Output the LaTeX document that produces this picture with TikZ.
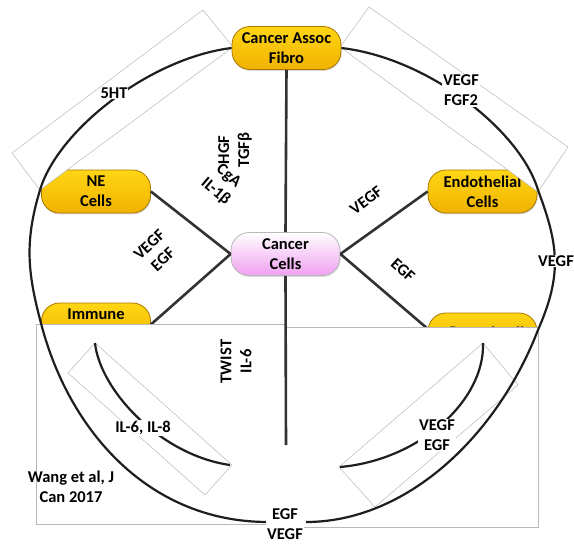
\documentclass[tikz,border=0pt]{standalone}
\usepackage{fontspec}
\setmainfont{Carlito}
\usetikzlibrary{shadows}
\newcommand\cellfont{\bfseries\fontsize{16.5}{20}\selectfont}
\definecolor{goldtop}{RGB}{255,214,20}
\definecolor{goldbot}{RGB}{240,178,0}
\definecolor{goldedge}{RGB}{170,120,0}
\definecolor{pinkcell}{RGB}{240,160,240}
\definecolor{cellgray}{RGB}{185,185,185}
\definecolor{linkgray}{RGB}{50,50,50}
\definecolor{ringblack}{RGB}{30,30,30}
\definecolor{framegray}{RGB}{185,185,185}
\tikzset{
  cell/.style={rectangle, rounded corners=18pt, minimum width=109pt,
    minimum height=43pt, inner sep=0pt, top color=goldtop,
    bottom color=goldbot, draw=goldedge, line width=0.8pt,
    align=center, font=\cellfont,
    drop shadow={shadow xshift=0.6pt, shadow yshift=-1.4pt, opacity=0.3}},
  tumour/.style={cell, top color=white, bottom color=pinkcell, draw=cellgray},
  link/.style={draw=linkgray, line width=2.6pt},
  ring/.style={draw=ringblack, line width=2.2pt},
  frame/.style={draw=framegray, line width=0.5pt, fill=white},
  tag/.style={font=\cellfont, align=center, inner sep=1pt},
  tagbg/.style={tag, fill=white},
}
\begin{document}
\begin{tikzpicture}[x=1pt,y=-1pt]
\useasboundingbox (0,0) rectangle (574,544);

% surrounding cell types and the tumour
\node[cell] (ne) at (96,191.5) {NE\\Cells};
\node[cell] (endo) at (482.5,191.5) {Endothelial\\Cells};
\node[cell] (immune) at (96,324.5) {Immune\\\phantom{Cells}};
\node[cell] (inflamed) at (482.5,334.5) {\raisebox{4pt}{Inflamed Cells}};
\node[tumour] (cancer) at (285.5,254) {Cancer\\Cells};

% spokes from the tumour
\draw[link] (cancer.west) -- (ne.east);
\draw[link] (cancer.west) -- (immune.east);
\draw[link] (cancer.east) -- (endo.west);
\draw[link] (cancer.east) -- (inflamed.174);

% frames of the upper arcs
\draw[frame] (203,10) -- (233,47) -- (40,190) -- (12,153) -- cycle;
\draw[frame] (369,7) -- (340,47) -- (538,192) -- (568,147) -- cycle;

% frames of the lower arcs
\fill[white] (36,324) rectangle (287,524);
\fill[white] (287,328) rectangle (538,527);
\draw[framegray, line width=0.5pt] (287,324) -- (36,324) -- (36,524) -- (287,524);
\draw[framegray, line width=0.5pt] (287,327) -- (538,327) -- (538,527) -- (287,527);
\draw[frame] (95,343) -- (68,373) -- (205,495) -- (232,465) -- cycle;
\draw[frame] (483,343) -- (518,385) -- (375,507) -- (339,467) -- cycle;

% fibroblasts at the top
\node[cell] (caf) at (286.5,48) {Cancer Assoc\\Fibro};

% vertical spokes
\coordinate (stem) at (286,445);
\draw[link] (caf.south) -- (cancer.north);
\draw[link] (cancer.south) -- (stem);

% outer ring
\coordinate (jnw) at (40,190);
\coordinate (jne) at (538,190);
\coordinate (jsw) at (42,327);
\coordinate (jse) at (538,330);
\coordinate (js1) at (268,522);
\coordinate (js2) at (306,522);
\draw[ring] (caf.west) .. controls (150,58) and (58,130) .. (jnw);
\draw[ring] (caf.east) .. controls (428,58) and (520,130) .. (jne);
\draw[ring] (jnw) .. controls (24,243) and (27.7,274) .. (jsw);
\draw[ring] (jsw) .. controls (70.6,432.6) and (150,522) .. (js1);
\draw[ring] (jne) .. controls (559,246) and (562,275) .. (jse);
\draw[ring] (jse) .. controls (496.6,437) and (406,522) .. (js2);

% inner arcs
\coordinate (ila) at (95,343);
\coordinate (ilb) at (230,465);
\coordinate (vea) at (483,343);
\coordinate (veb) at (340,467);
\draw[ring] (ila) .. controls (100,390) and (160,455) .. (ilb);
\draw[ring] (vea) .. controls (485,400) and (420,460) .. (veb);

% signal labels on the arcs
\node[tagbg] (t5ht) at (114,93) {5HT};
\node[tagbg] (tvf) at (461,90.5) {VEGF\\FGF2};
\node[tagbg] (tvr) at (556,261) {VEGF};
\node[tagbg] (tev) at (285,524) {EGF\\VEGF};
\node[tagbg] (til) at (143,428) {IL-6, IL-8};
\node[tagbg] (tve) at (437,435.5) {VEGF\\EGF};

% signal labels on the spokes
\node[tag, rotate=90] (thgf) at (235,150) {HGF\\TGFβ};
\node[tag, rotate=-40] (tcga) at (222,184) {CgA\\IL-1β};
\node[tag, rotate=43] (tvel) at (156,252) {VEGF\\EGF};
\node[tag, rotate=37] (tver) at (366,200) {VEGF};
\node[tag, rotate=-42] (tegr) at (403,270) {EGF};
\node[tag, rotate=90] (ttw) at (236,361.5) {TWIST\\IL-6};

% citation
\node[tag] (cite) at (71,486.5) {Wang et al, J\\Can 2017};
\end{tikzpicture}
\end{document}
